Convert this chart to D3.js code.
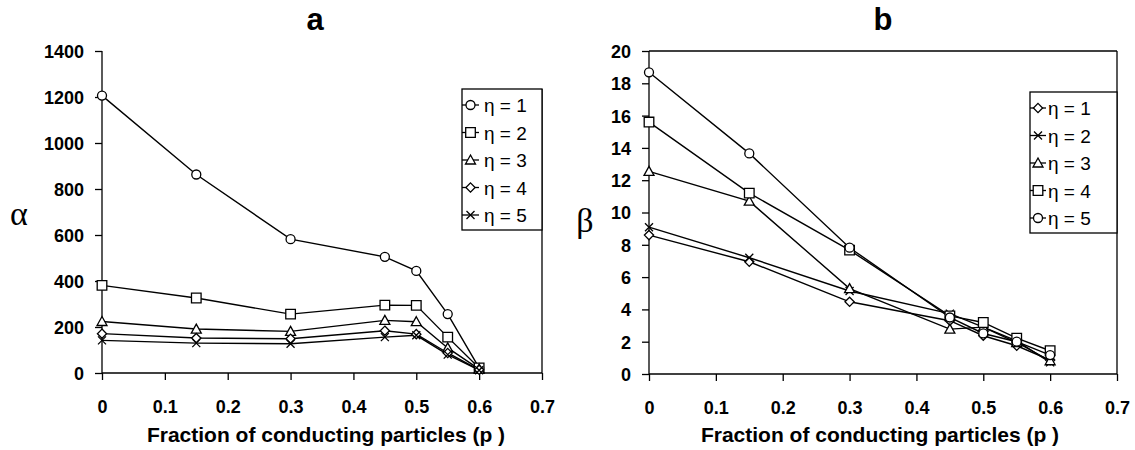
<!DOCTYPE html>
<html><head><meta charset="utf-8">
<script src="https://cdn.jsdelivr.net/npm/d3@7"></script>
<style>body{margin:0;background:#fff}</style>
</head><body>
<svg id="c" width="1135" height="450"></svg>
<script>
const pValues = [0, 0.15, 0.3, 0.45, 0.5, 0.55, 0.6];
const xTicks = [0, 0.1, 0.2, 0.3, 0.4, 0.5, 0.6, 0.7];
const alphaTicks = [0, 200, 400, 600, 800, 1000, 1200, 1400];
const betaTicks = [0, 2, 4, 6, 8, 10, 12, 14, 16, 18, 20];

const alphaEta1 = [1206, 863, 582, 505, 444, 256, 22];
const alphaEta2 = [381, 326, 256, 295, 294, 156, 22];
const alphaEta3 = [224, 191, 181, 229, 223, 109, 17];
const alphaEta4 = [171, 152, 149, 184, 169, 87, 14];
const alphaEta5 = [142, 130, 127, 156, 164, 80, 12];

const betaEta1 = [8.6, 6.95, 4.47, 3.3, 2.37, 1.75, 0.86];
const betaEta2 = [9.09, 7.2, 5.14, 3.74, 2.9, 2.05, 0.72];
const betaEta3 = [12.55, 10.7, 5.29, 2.78, 2.9, 1.95, 0.82];
const betaEta4 = [15.6, 11.2, 7.67, 3.6, 3.19, 2.22, 1.44];
const betaEta5 = [18.68, 13.66, 7.82, 3.5, 2.51, 2.0, 1.17];

const seriesLabels = ["η = 1", "η = 2", "η = 3", "η = 4", "η = 5"];

const svg = d3.select("#c");
const FONT = "Liberation Sans, Arial, sans-serif";

function marker(g, type, x, y) {
  const m = g.append("path").attr("transform", `translate(${x},${y})`)
    .attr("fill", "#fff").attr("stroke", "#000").attr("stroke-width", 1.3);
  let d;
  if (type === "circle") d = "M4.5,0A4.5,4.5 0 1,1 -4.5,0A4.5,4.5 0 1,1 4.5,0Z";
  else if (type === "square") d = "M-4.8,-4.8H4.8V4.8H-4.8Z";
  else if (type === "triangle") d = "M0,-5L5,4H-5Z";
  else if (type === "diamond") d = "M0,-4.6L4.6,0L0,4.6L-4.6,0Z";
  else { d = "M-4,-4L4,4M-4,4L4,-4"; m.attr("fill", "none"); }
  m.attr("d", d);
}

function panel(cfg) {
  const g = svg.append("g");
  const x = d3.scaleLinear().domain([0, 0.7]).range([cfg.left, cfg.right]);
  const y = d3.scaleLinear().domain([0, cfg.ymax]).range([cfg.bottom, cfg.top]);

  const xa = g.append("g").attr("transform", `translate(0,${cfg.bottom})`)
    .call(d3.axisBottom(x).tickValues(xTicks).tickSize(7).tickFormat(d => d === 0 ? "0" : d3.format(".1f")(d)));
  const ya = g.append("g").attr("transform", `translate(${cfg.left},0)`)
    .call(d3.axisLeft(y).tickValues(cfg.yTicks).tickSize(7).tickFormat(d3.format("d")));
  [xa, ya].forEach(a => {
    a.select(".domain").remove();
    a.selectAll(".tick line").attr("stroke", "#000").attr("stroke-width", 1.3);
    a.selectAll("text").attr("fill", "#000").style("font-family", FONT)
      .style("font-weight", "bold").style("font-size", "18px");
  });
  xa.selectAll("text").attr("y", 40).attr("dy", null);
  ya.selectAll("text").attr("x", -18).attr("dy", "0.36em");
  g.append("line").attr("x1", cfg.left).attr("x2", cfg.right).attr("y1", cfg.bottom).attr("y2", cfg.bottom)
    .attr("stroke", "#000").attr("stroke-width", 1.5);
  g.append("line").attr("x1", cfg.left).attr("x2", cfg.left).attr("y1", cfg.top).attr("y2", cfg.bottom)
    .attr("stroke", "#000").attr("stroke-width", 1.3);
  if (cfg.frameTop) {
    g.append("line").attr("x1", cfg.left).attr("x2", cfg.right).attr("y1", cfg.top).attr("y2", cfg.top)
      .attr("stroke", "#000").attr("stroke-width", 1.3);
  }
  g.append("line").attr("x1", cfg.right).attr("x2", cfg.right).attr("y1", cfg.rightFrom).attr("y2", cfg.bottom)
    .attr("stroke", "#000").attr("stroke-width", 1.3);

  const line = d3.line().x((d, i) => x(pValues[i])).y(d => y(d));
  cfg.series.forEach(s => {
    g.append("path").attr("d", line(s)).attr("fill", "none").attr("stroke", "#000").attr("stroke-width", 1.4);
  });
  cfg.series.forEach((s, k) => {
    s.forEach((v, i) => marker(g, cfg.markers[k], x(pValues[i]), y(v)));
  });

  g.append("text").attr("x", cfg.titleX).attr("y", 30).attr("text-anchor", "middle")
    .style("font-family", FONT).style("font-weight", "bold").style("font-size", "31px").text(cfg.title);
  g.append("text").attr("x", cfg.xlabX).attr("y", 442).attr("text-anchor", "middle")
    .style("font-family", FONT).style("font-weight", "bold").style("font-size", "21px")
    .text("Fraction of conducting particles (p )");
  g.append("text").attr("x", cfg.ylabX).attr("y", cfg.ylabY).attr("text-anchor", "middle")
    .style("font-family", "Liberation Serif, serif").style("font-size", "34px").text(cfg.ylab);

  const L = cfg.legend;
  g.append("rect").attr("x", L.x).attr("y", L.y).attr("width", L.w).attr("height", L.h)
    .attr("fill", "#fff").attr("stroke", "#000").attr("stroke-width", 1.3);
  seriesLabels.forEach((lab, k) => {
    const yy = L.y + 16 + k * 27.5;
    g.append("line").attr("x1", L.x).attr("x2", L.x + L.lineW).attr("y1", yy).attr("y2", yy)
      .attr("stroke", "#000").attr("stroke-width", 1.3);
    marker(g, cfg.markers[k], L.x + L.lineW / 2, yy);
    g.append("text").attr("x", L.x + L.textDx).attr("y", yy + 7)
      .style("font-family", FONT).style("font-size", "19px").text(lab);
  });
}

panel({
  left: 102, right: 542, top: 51, bottom: 373, ymax: 1400, yTicks: alphaTicks,
  series: [alphaEta1, alphaEta2, alphaEta3, alphaEta4, alphaEta5],
  markers: ["circle", "square", "triangle", "diamond", "x"],
  title: "a", titleX: 315, xlabX: 326, ylab: "α", ylabX: 19, ylabY: 225, frameTop: false, rightFrom: 89,
  legend: {x: 462, y: 89, w: 80, h: 141, lineW: 17, textDx: 22}
});
panel({
  left: 649, right: 1117, top: 51, bottom: 374, ymax: 20, yTicks: betaTicks,
  series: [betaEta1, betaEta2, betaEta3, betaEta4, betaEta5],
  markers: ["diamond", "x", "triangle", "square", "circle"],
  title: "b", titleX: 883, xlabX: 880, ylab: "β", ylabX: 585, ylabY: 232, frameTop: true, rightFrom: 51,
  legend: {x: 1030, y: 92, w: 87, h: 141, lineW: 16, textDx: 18}
});
</script>
</body></html>
